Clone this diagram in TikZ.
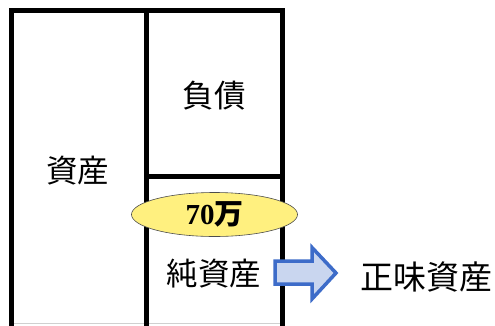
\documentclass[tikz,border=0pt]{standalone}
\usepackage{fontspec}
\setmainfont{Liberation Serif}
\newfontfamily\cjk{Noto Sans CJK JP}
\usetikzlibrary{shapes.geometric}
\definecolor{ellfill}{HTML}{FFF07F}
\definecolor{arrfill}{HTML}{C9D6EF}
\definecolor{arrline}{HTML}{3D6CC9}
\definecolor{faint}{HTML}{D0D0D0}
\tikzset{
  wall/.style={line width=4.5pt, line cap=butt},
  lbl/.style={font=\cjk\fontsize{31.5}{34}\selectfont, inner sep=0pt},
}
\begin{document}
\begin{tikzpicture}[x=1pt,y=-1pt]
\useasboundingbox (0,0) rectangle (495,325);
\fill[white] (0,0) rectangle (495,325);
% faint bottom line
\draw[faint, line width=1pt] (12,323.5) -- (283,323.5);
% frame
\draw[wall] (11.5,327) -- (11.5,10.5) -- (282.5,10.5) -- (282.5,327);
\draw[wall] (146.5,10.5) -- (146.5,327);
\draw[wall] (146.5,176.5) -- (282.5,176.5);
% labels
\node[lbl] (shisan) at (77.5,171) {資産};
\node[lbl] (fusai) at (214,96) {負債};
\node[lbl] (junshisan) at (214,273.5) {純資産};
\node[ellipse, draw=black!70, line width=0.6pt, fill=ellfill, minimum width=166pt, minimum height=44pt, inner sep=0pt] (val) at (214.5,214.5) {\fontsize{29}{30}\selectfont\bfseries 70{\cjk\bfseries 万}};
% arrow
\draw[arrline, fill=arrfill, line width=3.5pt, line join=miter] (275,261) -- (312,261) -- (312,247.5) -- (336,273) -- (312,299) -- (312,284) -- (275,284) -- cycle;
\node[font=\cjk\fontsize{33}{36}\selectfont, inner sep=0pt] (shoumi) at (426.5,277) {正味資産};
\end{tikzpicture}
\end{document}
